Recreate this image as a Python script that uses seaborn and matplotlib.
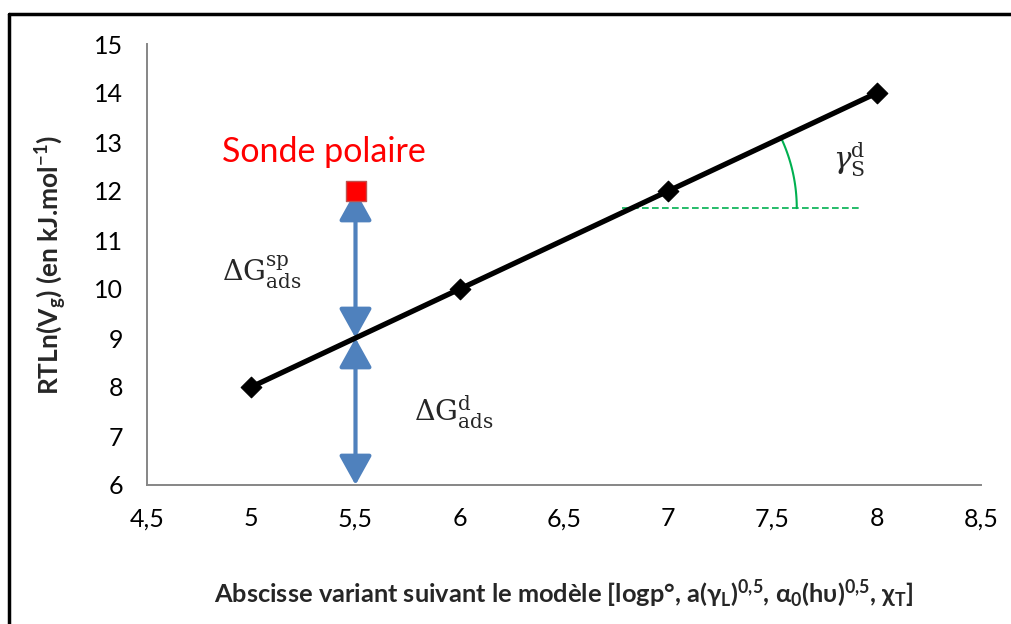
import numpy as np
import pandas as pd
import matplotlib
matplotlib.use("Agg")
import matplotlib.pyplot as plt
from matplotlib.lines import Line2D
import seaborn as sns

# data
abscisse = [5, 6, 7, 8]
rtln_vg = [8, 10, 12, 14]
sonde_x = [5.5]
sonde_y = [12]
x_ticks = [4.5, 5, 5.5, 6, 6.5, 7, 7.5, 8, 8.5]
y_ticks = [6, 7, 8, 9, 10, 11, 12, 13, 14, 15]

df = pd.DataFrame({"x": abscisse, "y": rtln_vg})
df_sonde = pd.DataFrame({"x": sonde_x, "y": sonde_y})

sns.set_style("white")
plt.rcParams["font.family"] = ["Lato", "DejaVu Sans"]
plt.rcParams["mathtext.fontset"] = "custom"
plt.rcParams["mathtext.rm"] = "Lato:bold"
plt.rcParams["mathtext.it"] = "DejaVu Serif"
plt.rcParams["mathtext.sf"] = "DejaVu Serif:italic"

fig = plt.figure(figsize=(10.12, 6.24), dpi=100)
ax = fig.add_axes([147 / 1012, 1 - 485 / 624, (981 - 147) / 1012, (485 - 44) / 624])

grey = "#868686"
blue = "#4F81BD"
green = "#00B050"

sns.lineplot(data=df, x="x", y="y", ax=ax, color="black", lw=3.8, zorder=3)
sns.scatterplot(data=df, x="x", y="y", ax=ax, marker="D", s=110, color="black",
                edgecolor="black", zorder=4)
sns.scatterplot(data=df_sonde, x="x", y="y", ax=ax, marker="s", s=190, color="#FF0000",
                edgecolor="#C0504D", linewidth=1, zorder=5)

ax.set_xlim(4.5, 8.5)
ax.set_ylim(6, 15)
ax.set_xticks(x_ticks)
ax.set_yticks(y_ticks)
ax.set_xticklabels([str(v).replace(".", ",").replace(",0", "") for v in x_ticks])
ax.set_yticklabels([str(v) for v in y_ticks])
ax.tick_params(axis="both", labelsize=18, colors="black", length=5, width=1.3,
               direction="out", color=grey, pad=12)
ax.tick_params(axis="x", pad=11)
for s in ["top", "right"]:
    ax.spines[s].set_visible(False)
for s in ["left", "bottom"]:
    ax.spines[s].set_color(grey)
    ax.spines[s].set_linewidth(1.4)

ax.set_xlabel("Abscisse variant suivant le modèle [logp°, a(γ$_\\mathrm{L}$)$^\\mathrm{0{,}5}$, "
              "α$_\\mathrm{0}$(hυ)$^\\mathrm{0{,}5}$, χ$_\\mathrm{T}$]",
              fontsize=18.3, fontweight="bold", labelpad=34)
ax.set_ylabel("RTLn(V$_\\mathrm{g}$) (en kJ.mol$^\\mathrm{-1}$)", fontsize=19,
              fontweight="bold", labelpad=18)

# double arrows
for y0, y1 in [(12, 9), (9, 6)]:
    ax.annotate("", xy=(sonde_x[0], y1), xytext=(sonde_x[0], y0),
                arrowprops=dict(arrowstyle="<|-|>,head_length=0.9,head_width=0.5",
                                color=blue, lw=3, shrinkA=0, shrinkB=0,
                                mutation_scale=20), zorder=2)

# annotations
ax.text(4.86, 12.8, "Sonde polaire", color="#FF0000", fontsize=24.5, va="center", ha="left")
ax.text(4.86, 10.35, "ΔG$_{\\mathit{ads}}^{\\mathit{sp}}$", fontsize=20.5,
        family="DejaVu Serif", va="center", ha="left")
ax.text(5.78, 7.49, "ΔG$_{\\mathit{ads}}^{\\mathit{d}}$", fontsize=20.5,
        family="DejaVu Serif", va="center", ha="left")
ax.text(7.79, 12.63, "$\\mathsf{γ}_{\\mathit{S}}^{\\mathit{d}}$", fontsize=21,
        va="center", ha="left")

# angle construction
ax.plot([6.78, 7.93], [11.65, 11.65], color=green, lw=1.2, ls=(0, (4, 2)))
cx, cy = ax.transData.transform((6.825, 11.65))
t = np.radians(np.linspace(0, 25, 50))
r = 165
pts = ax.transData.inverted().transform(np.column_stack([cx + r * np.cos(t), cy + r * np.sin(t)]))
ax.plot(pts[:, 0], pts[:, 1], color=green, lw=1.5)

# outer frame (top & left)
fig.add_artist(Line2D([9 / 1012, 1], [1 - 14 / 624, 1 - 14 / 624], color="black", lw=2.5))
fig.add_artist(Line2D([9 / 1012, 9 / 1012], [0, 1 - 14 / 624], color="black", lw=2.5))

fig.savefig("out.png", dpi=100)
